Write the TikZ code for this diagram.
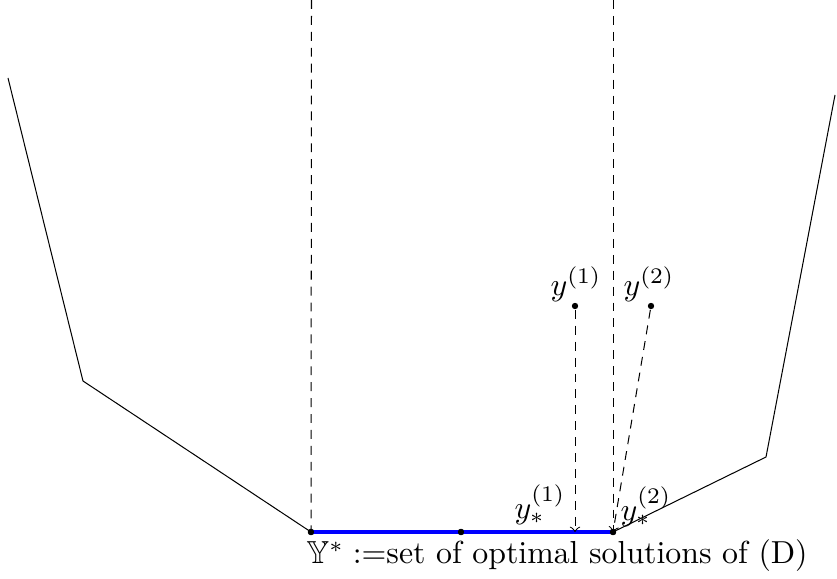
\documentclass[tikz,border=0pt]{standalone}
\usepackage{amssymb}
\begin{document}
\begin{tikzpicture}[x=0.314pt,y=-0.314pt,
  dot/.style={circle,fill=black,inner sep=0pt,minimum size=2pt},
  lbl/.style={inner sep=0pt},
  thinline/.style={line width=0.32pt},
  proj/.style={thinline,dash pattern=on 2.8pt off 2.2pt,->},
  guide/.style={thinline,dash pattern=on 2.8pt off 2.2pt}]
\useasboundingbox (0,0) rectangle (837,578);
\coordinate (L0) at (8,78);
\coordinate (L1) at (83,381);
\node[dot] (A) at (311,532) {};
\node[dot] (M) at (461,532) {};
\node[dot] (B) at (613,532) {};
\coordinate (R1) at (766,457);
\coordinate (R0) at (835,95);
\coordinate (TA) at (311.5,0);
\coordinate (TB) at (613,0);
\node[dot] (Y1) at (575,306) {};
\node[dot] (Y2) at (651,306) {};
\coordinate (P1) at (575,532);
\draw[thinline] (L0) -- (L1) -- (A.center);
\draw[thinline] (B.center) -- (R1) -- (R0);
\draw[blue, line width=0.95pt] (A.center) -- (B.center);
\node[dot] at (A) {};
\node[dot] at (M) {};
\node[dot] at (B) {};
\draw[guide] (TA) -- (A.center);
\draw[guide] (TB) -- (B.center);
\draw[proj] (Y1) -- (P1);
\draw[proj] (Y2) -- (B.center);
\node[lbl] (ly1) at (576,284) {$y^{(1)}$};
\node[lbl] (ly2) at (649,284) {$y^{(2)}$};
\node[lbl] (ls1) at (540,505) {$y_*^{(1)}$};
\node[lbl] (ls2) at (646,507) {$y_*^{(2)}$};
\node[lbl] (ly) at (557,556) {$\mathbb{Y}^*:=$set of optimal solutions of (D)};
\end{tikzpicture}
\end{document}
